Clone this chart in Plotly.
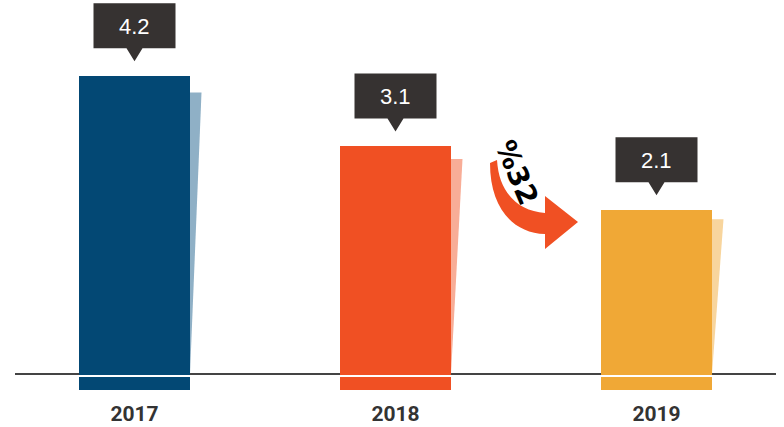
import plotly.graph_objects as go

years = ["2017", "2018", "2019"]
values = [4.2, 3.1, 2.1]
value_labels = ["4.2", "3.1", "2.1"]
change_label = "%32"

bar_colors = ["#034874", "#f05023", "#f0a836"]
shadow_colors = ["#8fb0c6", "#f8ad97", "#f8d59d"]

W, H = 784, 427
ML, MR, MT, MB = 0, 0, 0, 30
PW, PH = W - ML - MR, H - MT - MB

# pixel mapping helpers (layout only)
X0PX, XSTEP = 134.5, 261.0
Y0PX, YSTEP = 344.2, 63.8
x_range = [-X0PX / XSTEP, (PW - X0PX) / XSTEP]
y_range = [(Y0PX - PH) / YSTEP, Y0PX / YSTEP]
bar_w = 111 / XSTEP
bar_base = -(390 - Y0PX) / YSTEP
axis_v = -(374 - Y0PX) / YSTEP
white_v = -(376 - Y0PX) / YSTEP
shadow_dx = 11.5 / XSTEP
shadow_k = 0.945

xs = list(range(len(years)))
fig = go.Figure()

# shadows
for i, v in enumerate(values):
    xr = xs[i] + bar_w / 2
    top = axis_v + shadow_k * (v - axis_v)
    fig.add_trace(go.Scatter(
        x=[xr, xr + shadow_dx, xr, xr], y=[top, top, axis_v, top],
        mode="lines", fill="toself", fillcolor=shadow_colors[i],
        line=dict(width=0, color=shadow_colors[i]), hoverinfo="skip", showlegend=False))

fig.add_trace(go.Bar(
    x=xs, y=[v - bar_base for v in values], base=[bar_base] * len(values),
    width=bar_w, marker=dict(color=bar_colors, line=dict(width=0)),
    hoverinfo="skip", showlegend=False))

shapes = [
    dict(type="line", xref="paper", yref="y", x0=15 / PW, x1=776 / PW, y0=axis_v, y1=axis_v,
         line=dict(color="#444444", width=2), layer="below"),
    dict(type="line", xref="paper", yref="y", x0=0, x1=1, y0=white_v, y1=white_v,
         line=dict(color="#ffffff", width=2), layer="above"),
]

bubble = "M -41,28 L -8,28 L 0,15 L 8,28 L 41,28 L 41,73 L -41,73 Z"
annotations = []
for i, v in enumerate(values):
    shapes.append(dict(type="path", xref="x", yref="y", xsizemode="pixel", ysizemode="pixel",
                       xanchor=xs[i], yanchor=v, path=bubble,
                       fillcolor="#363231", line=dict(width=0)))
    annotations.append(dict(x=xs[i], y=v, xref="x", yref="y", text=value_labels[i],
                            showarrow=False, yshift=50,
                            font=dict(family="Liberation Sans", size=22, color="#ffffff")))

# curved arrow (screen pixel coords converted to offsets from top-left of plot)
pts = "M 490,163 C 490,207 512,233 545,234 L 545,249 L 578,222 L 545,196 L 545,213 C 518,211 499,193 497,160 Z"
def conv(p):
    out = []
    for tok in p.split():
        if "," in tok:
            a, b = tok.split(",")
            out.append(f"{float(a) - ML},{-(float(b) - MT)}")
        else:
            out.append(tok)
    return " ".join(out)
shapes.append(dict(type="path", xref="paper", yref="paper", xsizemode="pixel", ysizemode="pixel",
                   xanchor=0, yanchor=1, path=conv(pts), fillcolor="#f05023", line=dict(width=0)))

annotations.append(dict(x=(517 - ML) / PW, y=1 - (172 - MT) / PH, xref="paper", yref="paper",
                        text=change_label, showarrow=False, textangle=67,
                        font=dict(family="DejaVu Sans", size=28, color="#000000", weight="bold")))

fig.update_layout(
    width=W, height=H, margin=dict(l=ML, r=MR, t=MT, b=MB),
    paper_bgcolor="#ffffff", plot_bgcolor="#ffffff",
    xaxis=dict(range=x_range, tickvals=xs, ticktext=years, showgrid=False, zeroline=False,
               showline=False, ticks="", fixedrange=True, ticklabelstandoff=2,
               tickfont=dict(family="Roboto", size=21, color="#333333", weight="bold")),
    yaxis=dict(range=y_range, visible=False, showgrid=False, zeroline=False, fixedrange=True),
    shapes=shapes, annotations=annotations, bargap=0,
)

fig.write_html("out.html", config={"displayModeBar": False},
               post_script="document.body.style.margin='0';document.body.style.overflow='hidden';")
